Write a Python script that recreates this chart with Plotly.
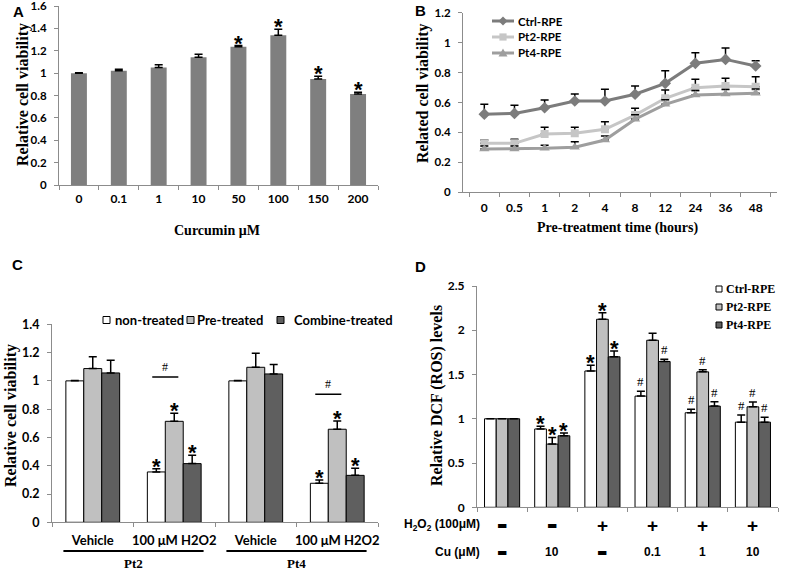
import plotly.graph_objects as go

W, H = 787, 570

# ---------------- data ----------------
# Panel A
curcumin_doses = ["0", "0.1", "1", "10", "50", "100", "150", "200"]
viability_a = [1.0, 1.022, 1.05, 1.143, 1.235, 1.338, 0.948, 0.814]
viability_a_err = [0.004, 0.012, 0.024, 0.026, 0.011, 0.054, 0.023, 0.015]
marks_a = ["", "", "", "", "*", "*", "*", "*"]

# Panel B
pretreat_hours = ["0", "0.5", "1", "2", "4", "8", "12", "24", "36", "48"]
ctrl_b = [0.522, 0.527, 0.565, 0.610, 0.610, 0.655, 0.728, 0.862, 0.888, 0.844]
ctrl_b_err = [0.066, 0.054, 0.052, 0.047, 0.078, 0.055, 0.084, 0.071, 0.076, 0.035]
pt2_b = [0.327, 0.327, 0.389, 0.394, 0.421, 0.516, 0.628, 0.699, 0.710, 0.705]
pt2_b_err = [0.022, 0.027, 0.045, 0.04, 0.051, 0.045, 0.055, 0.056, 0.052, 0.067]
pt4_b = [0.289, 0.289, 0.294, 0.301, 0.349, 0.488, 0.588, 0.650, 0.657, 0.661]
pt4_b_err = [0.02, 0.02, 0.02, 0.037, 0.027, 0.03, 0.03, 0.03, 0.03, 0.03]
series_b = ["Ctrl-RPE", "Pt2-RPE", "Pt4-RPE"]

# Panel C
groups_c = ["Pt2 Vehicle", "Pt2 H2O2", "Pt4 Vehicle", "Pt4 H2O2"]
group_labels_c = ["Vehicle", "100 μM H2O2", "Vehicle", "100 μM H2O2"]
patients_c = ["Pt2", "Pt4"]
series_c = ["non-treated", "Pre-treated", "Combine-treated"]
non_treated_c = [1.0, 0.356, 1.0, 0.276]
non_treated_c_err = [0.003, 0.023, 0.003, 0.023]
pre_treated_c = [1.087, 0.714, 1.096, 0.658]
pre_treated_c_err = [0.084, 0.057, 0.099, 0.058]
combine_treated_c = [1.056, 0.415, 1.049, 0.332]
combine_treated_c_err = [0.089, 0.059, 0.066, 0.05]
marks_c = [["", "", ""], ["*", "*", "*"], ["", "", ""], ["*", "*", "*"]]
hash_c = [None, 1.027, None, 0.905]

# Panel D
groups_d = ["g1", "g2", "g3", "g4", "g5", "g6"]
h2o2_row = ["-", "-", "+", "+", "+", "+"]
cu_row = ["-", "10", "-", "0.1", "1", "10"]
series_d = ["Ctrl-RPE", "Pt2-RPE", "Pt4-RPE"]
ctrl_d = [1.0, 0.885, 1.54, 1.256, 1.068, 0.962]
ctrl_d_err = [0.0, 0.03, 0.065, 0.055, 0.04, 0.08]
pt2_d = [1.0, 0.714, 2.124, 1.887, 1.53, 1.135]
pt2_d_err = [0.0, 0.075, 0.075, 0.08, 0.025, 0.055]
pt4_d = [1.0, 0.808, 1.70, 1.647, 1.143, 0.962]
pt4_d_err = [0.0, 0.03, 0.065, 0.025, 0.05, 0.055]
marks_d = [["", "", ""], ["*", "*", "*"], ["*", "*", "*"],
           ["#", "", "#"], ["#", "#", "#"], ["#", "#", "#"]]

# ---------------- style ----------------
AX = "#8c8c8c"
SANS = "Lato"
SERIF = "Liberation Serif"
ARIAL = "Liberation Sans"
BAR_COLORS = ["#ffffff", "#c0c0c0", "#5f5f5f"]
LINE_STYLES = [("#7c7c7c", "diamond", 9), ("#c6c6c6", "square", 8), ("#9e9e9e", "triangle-up", 9)]


def px(x):
    return x / W


def py(y):
    return 1 - y / H


def tfont(size, family=SANS, weight="bold"):
    return dict(family=family, size=size, color="black", weight=weight)


fig = go.Figure()


def note(x, y, text, font, xref="paper", yref="paper", xanchor="center", yanchor="middle", **kw):
    fig.add_annotation(x=x, y=y, xref=xref, yref=yref, text=text, showarrow=False, font=font,
                       xanchor=xanchor, yanchor=yanchor, **kw)


def err(arr):
    return dict(type="data", array=arr, arrayminus=[0] * len(arr), symmetric=False,
                color="black", thickness=1.5, width=4)


STAR_FONT = tfont(22, ARIAL, "bold")
STAR_SHIFT = -12
HASH_FONT = tfont(13, SERIF, "normal")

# ---- Panel A ----
fig.add_trace(go.Bar(x=curcumin_doses, y=viability_a, width=0.4, offset=-0.2,
                     marker=dict(color="#7f7f7f", line=dict(width=0)),
                     error_y=err(viability_a_err), xaxis="x", yaxis="y", showlegend=False))
for i, m in enumerate(marks_a):
    if m:
        note(i, viability_a[i] + viability_a_err[i], m, STAR_FONT, "x", "y",
             yanchor="bottom", yshift=STAR_SHIFT)

# ---- Panel B ----
for name, vals, errs, (col, sym, sz) in zip(series_b, [ctrl_b, pt2_b, pt4_b],
                                            [ctrl_b_err, pt2_b_err, pt4_b_err], LINE_STYLES):
    fig.add_trace(go.Scatter(x=pretreat_hours, y=vals, name=name, mode="lines+markers",
                             line=dict(color=col, width=3),
                             marker=dict(symbol=sym, size=sz, color=col),
                             error_y=err(errs), xaxis="x2", yaxis="y2", showlegend=False))

# ---- Panel C ----
wc = 0.22
for k, (name, vals, errs) in enumerate(zip(series_c,
                                           [non_treated_c, pre_treated_c, combine_treated_c],
                                           [non_treated_c_err, pre_treated_c_err, combine_treated_c_err])):
    fig.add_trace(go.Bar(x=groups_c, y=vals, width=wc, offset=-1.5 * wc + k * wc, name=name,
                         marker=dict(color=BAR_COLORS[k], line=dict(color="black", width=1)),
                         error_y=err(errs), xaxis="x3", yaxis="y3", showlegend=False))
    for i in range(len(groups_c)):
        if marks_c[i][k]:
            note(i - wc + k * wc, vals[i] + errs[i], marks_c[i][k], STAR_FONT, "x3", "y3",
                 yanchor="bottom", yshift=STAR_SHIFT)

# ---- Panel D ----
wd = 0.7 / 3
for k, (name, vals, errs) in enumerate(zip(series_d, [ctrl_d, pt2_d, pt4_d],
                                           [ctrl_d_err, pt2_d_err, pt4_d_err])):
    fig.add_trace(go.Bar(x=groups_d, y=vals, width=wd, offset=-1.5 * wd + k * wd, name=name,
                         marker=dict(color=BAR_COLORS[k], line=dict(color="black", width=1)),
                         error_y=err(errs), xaxis="x4", yaxis="y4", showlegend=False))
    for i in range(len(groups_d)):
        m = marks_d[i][k]
        if m:
            f, ys = (STAR_FONT, STAR_SHIFT) if m == "*" else (HASH_FONT, 0)
            note(i - wd + k * wd, vals[i] + errs[i], m, f, "x4", "y4",
                 yanchor="bottom", yshift=ys)

# significance bars panel C
for i, h in enumerate(hash_c):
    if h is not None:
        fig.add_shape(type="line", xref="x3", yref="y3", x0=i - 0.27, x1=i + 0.05, y0=h, y1=h,
                      line=dict(color="black", width=1.5))
        note(i - 0.11, h, "#", tfont(12, SERIF, "normal"), "x3", "y3",
             yanchor="bottom", yshift=1)

# patient underlines and labels panel C
for j, p in enumerate(patients_c):
    a, b = 2 * j, 2 * j + 1
    fig.add_shape(type="line", xref="x3", yref="paper", x0=a - 0.36, x1=b + 0.36,
                  y0=py(551), y1=py(551), line=dict(color="black", width=2))
    note((a + b) / 2, py(563), p, tfont(13, SERIF), "x3", "paper")

# row labels panel D
for i, (h, c) in enumerate(zip(h2o2_row, cu_row)):
    for val, ypx in ((h, 525), (c, 552)):
        if val == "-":
            txt, f = "▬", tfont(11, "DejaVu Sans", "normal")
        elif val == "+":
            txt, f = "+", tfont(19, ARIAL)
        else:
            txt, f = val, tfont(12, ARIAL)
        note(i, py(ypx), txt, f, "x4", "paper")
note(px(482), py(525), "H<sub>2</sub>O<sub>2</sub> (100μM)", tfont(12, ARIAL), xanchor="right")
note(px(482), py(552), "Cu (μM)", tfont(12, ARIAL), xanchor="right")

# manual legends
for k, (name, bx, tx) in enumerate(zip(series_c, [103, 187, 277], [113, 195, 292])):
    fig.add_shape(type="rect", xref="paper", yref="paper", x0=px(bx), x1=px(bx + 7),
                  y0=py(323.5), y1=py(316.5), fillcolor=BAR_COLORS[k],
                  line=dict(color="black", width=1))
    note(px(tx), py(320), name, tfont(13), xanchor="left")
for k, (name, ty) in enumerate(zip(series_d, [289, 307, 325])):
    fig.add_shape(type="rect", xref="paper", yref="paper", x0=px(716), x1=px(722),
                  y0=py(ty + 3), y1=py(ty - 3), fillcolor=BAR_COLORS[k],
                  line=dict(color="black", width=1))
    note(px(724), py(ty), name, tfont(12, SERIF), xanchor="left")


def marker_path(sym, cx, cy, r):
    if sym == "diamond":
        pts = [(cx, cy - r), (cx + r, cy), (cx, cy + r), (cx - r, cy)]
    elif sym == "square":
        q = r * 0.8
        pts = [(cx - q, cy - q), (cx + q, cy - q), (cx + q, cy + q), (cx - q, cy + q)]
    else:
        pts = [(cx, cy - r), (cx + r, cy + r * 0.8), (cx - r, cy + r * 0.8)]
    return "M" + " L".join(f"{px(a):.5f},{py(b):.5f}" for a, b in pts) + " Z"


for name, (col, sym, sz), ly in zip(series_b, LINE_STYLES, [21, 37, 53]):
    fig.add_shape(type="line", xref="paper", yref="paper", x0=px(492), x1=px(514),
                  y0=py(ly), y1=py(ly), line=dict(color=col, width=3))
    fig.add_shape(type="path", xref="paper", yref="paper", path=marker_path(sym, 503, ly, 4.5),
                  fillcolor=col, line=dict(color=col, width=0))
    note(px(516), py(ly), name, tfont(11.5), xanchor="left")

# axis titles & panel letters
titles = [
    ("Relative cell viability", 23, 95, -90, 16),
    ("Related cell viability", 423, 93, -90, 16),
    ("Relative cell viability", 11, 416, -90, 16),
    ("Relative DCF (ROS) levels", 437, 396, -90, 16),
    ("Curcumin μM", 217, 231, 0, 14),
    ("Pre-treatment time (hours)", 618, 228, 0, 14),
]
for t, x, y, ang, s in titles:
    note(px(x), py(y), t, tfont(s, SERIF), textangle=ang)
for t, x, y in [("A", 18, 12), ("B", 421, 11), ("C", 17, 264), ("D", 420, 266)]:
    note(px(x), py(y), t, tfont(15, ARIAL))


def xax(d0, d1, anchor, size=12, standoff=8, **kw):
    d = dict(domain=[px(d0), px(d1)], anchor=anchor, type="category", showline=True,
             linecolor=AX, linewidth=1, ticks="outside", tickson="boundaries", ticklen=4,
             tickcolor=AX, showgrid=False, zeroline=False, tickfont=tfont(size),
             ticklabelstandoff=standoff, tickangle=0, automargin=False,
             ticklabeloverflow="allow")
    d.update(kw)
    return d


def yax(top, bottom, anchor, rng, dtick, size=12):
    return dict(domain=[py(bottom), py(top)], anchor=anchor, range=rng, dtick=dtick,
                showline=True, linecolor=AX, linewidth=1, ticks="outside", ticklen=4,
                tickcolor=AX, showgrid=False, zeroline=False, tickfont=tfont(size),
                ticklabelstandoff=5, automargin=False, ticklabeloverflow="allow")


fig.update_layout(
    width=W, height=H, margin=dict(l=0, r=0, t=0, b=0, autoexpand=False),
    paper_bgcolor="white", plot_bgcolor="white", barmode="overlay", showlegend=False,
    xaxis=xax(59, 378, "y", standoff=3),
    yaxis=yax(6, 185, "x", [0, 1.6], 0.2, 11.5),
    xaxis2=xax(463, 777, "y2", standoff=4),
    yaxis2=yax(12.7, 192.3, "x2", [0, 1.2], 0.2, 11.5),
    xaxis3=xax(52, 378, "y3", 13, standoff=6, tickmode="array", tickvals=groups_c,
               ticktext=group_labels_c),
    yaxis3=yax(324.3, 522.3, "x3", [0, 1.4], 0.2, 12.5),
    xaxis4=xax(477, 778, "y4", showticklabels=False),
    yaxis4=yax(286, 507.3, "x4", [0, 2.5], 0.5, 12),
)

fig.write_html("out.html", config={"displayModeBar": False},
               post_script="document.body.style.margin='0';document.body.style.overflow='hidden';")
